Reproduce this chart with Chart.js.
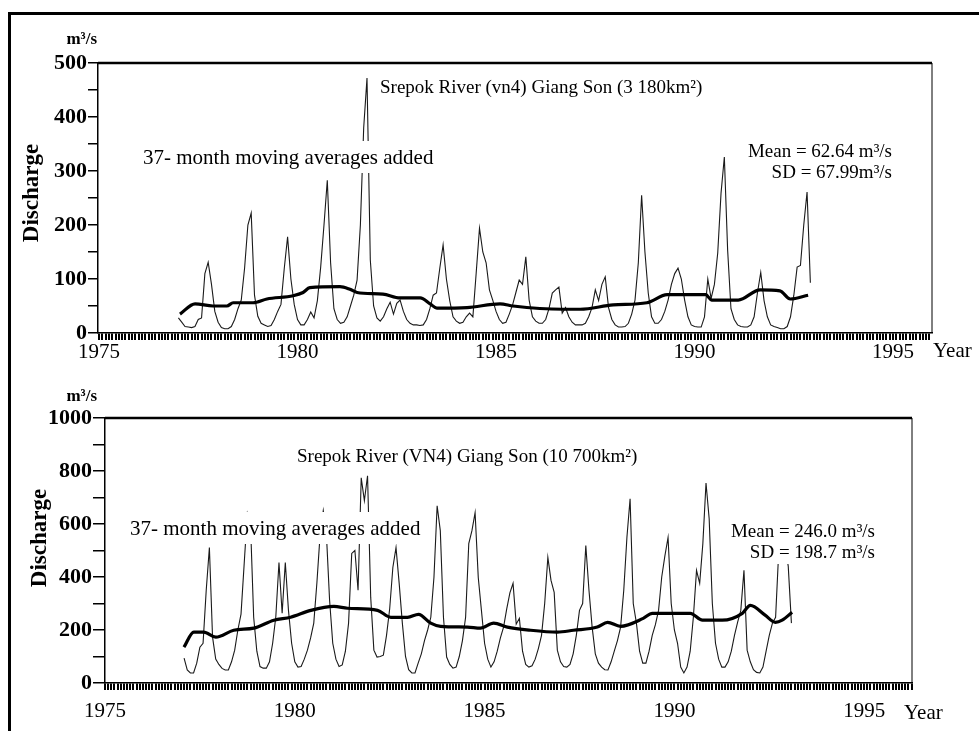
<!DOCTYPE html>
<html>
<head>
<meta charset="utf-8">
<script src="https://cdn.jsdelivr.net/npm/chart.js@4.4.0/dist/chart.umd.min.js"></script>
<style>
  html, body { margin: 0; padding: 0; background: #fff; width: 979px; height: 731px; overflow: hidden; }
  .panel { position: absolute; left: 0; width: 979px; }
  #p1 { top: 0; height: 366px; }
  #p2 { top: 366px; height: 365px; }
  .frame { position: absolute; left: 8px; top: 12px; width: 990px; height: 740px;
           border-left: 3px solid #000; border-top: 3px solid #000; }
</style>
</head>
<body>
<div class="frame"></div>
<div class="panel" id="p1"><canvas id="upper"></canvas></div>
<div class="panel" id="p2"><canvas id="lower"></canvas></div>

<script>
(function () {
   'use strict';

   //TICK LABELS
   const xLabelYears  = [1975, 1980, 1985, 1990, 1995];
   const upperYLabels = [0, 100, 200, 300, 400, 500];
   const lowerYLabels = [0, 200, 400, 600, 800, 1000];

   //UPPER PANEL - monthly discharge, Jan 1977 onward (m3/s)
   const upperStart = 1977;
   const upperFlow = [
       28, 20, 12, 11, 10, 12, 25, 28, 110, 131, 90, 40,
       20, 10, 8, 8, 12, 25, 45, 61, 120, 200, 222, 70,
       31, 18, 15, 12, 14, 25, 40, 53, 120, 178, 100, 53,
       25, 15, 15, 25, 39, 28, 60, 122, 200, 283, 130, 45,
       25, 18, 20, 30, 50, 70, 98, 200, 380, 472, 135, 50,
       28, 22, 30, 45, 57, 35, 55, 61, 40, 25, 18, 15,
       15, 14, 15, 25, 45, 70, 74, 120, 163, 100, 60, 30,
       22, 18, 20, 30, 37, 30, 111, 194, 150, 130, 80, 61,
       40, 25, 18, 20, 35, 52, 75, 98, 90, 141, 61, 30,
       22, 18, 18, 25, 45, 74, 80, 85, 37, 47, 30, 20,
       15, 15, 15, 18, 30, 47, 80, 60, 90, 104, 47, 25,
       15, 11, 11, 12, 18, 35, 61, 130, 255, 150, 74, 30,
       18, 18, 25, 40, 61, 90, 110, 120, 100, 61, 30, 15,
       12, 11, 11, 30, 100, 64, 90, 148, 259, 326, 153, 45,
       25, 15, 12, 11, 11, 15, 30, 74, 112, 60, 30, 15,
       12, 10, 8, 8, 12, 30, 70, 122, 125, 200, 261, 93
   ];

   //UPPER PANEL - 37 month moving average
   const upperAvgYears = [1977.04, 1977.42, 1977.87, 1978.22, 1978.38, 1978.88, 1979.23, 1979.89,
       1980.14, 1980.31, 1981.07, 1981.32, 1981.5, 1982.15, 1982.58, 1983.09, 1983.34, 1983.51,
       1984.27, 1985.1, 1985.43, 1986.69, 1987.12, 1987.95, 1988.8, 1989.31, 1990.28, 1990.43,
       1991.1, 1991.65, 1992.15, 1992.41, 1992.86];
   const upperAvg = [35, 54, 50, 50, 56, 56, 63, 69,
       75, 84, 86, 81, 75, 72, 65, 65, 54, 46,
       47, 54, 50, 44, 44, 52, 56, 71, 71, 61,
       61, 80, 78, 63, 70];

   //LOWER PANEL - monthly discharge, Feb 1977 onward (m3/s)
   const lowerStart = 1977 + 1 / 12;
   const lowerFlow = [
       94, 49, 38, 38, 75, 135, 150, 350, 511, 173, 90,
       70, 55, 49, 49, 80, 124, 200, 260, 450, 640, 600, 248,
       120, 62, 56, 56, 80, 150, 250, 455, 263, 455, 274, 150,
       80, 60, 62, 90, 124, 170, 226, 380, 560, 650, 560, 312,
       150, 90, 62, 68, 120, 226, 489, 500, 350, 774, 688, 782,
       323, 124, 98, 100, 105, 180, 280, 436, 511, 376, 226, 100,
       50, 38, 38, 75, 110, 160, 200, 248, 400, 669, 575, 248,
       98, 70, 56, 60, 100, 160, 248, 526, 575, 643, 398, 274,
       150, 90, 60, 80, 120, 170, 211, 280, 340, 376, 222, 244,
       120, 70, 60, 65, 90, 130, 180, 300, 474, 387, 342, 124,
       80, 62, 60, 70, 110, 180, 274, 300, 519, 350, 211, 110,
       75, 60, 50, 49, 80, 120, 160, 211, 350, 550, 695, 300,
       226, 120, 75, 75, 120, 180, 220, 274, 400, 480, 549, 300,
       200, 150, 60, 38, 60, 120, 248, 425, 376, 526, 755, 620,
       300, 150, 90, 60, 60, 80, 120, 180, 230, 274, 425, 124,
       80, 50, 40, 38, 60, 120, 180, 226, 248, 500, 560, 520,
       440, 226
   ];

   //LOWER PANEL - 37 month moving average
   const lowerAvgYears = [1977.08, 1977.34, 1977.6, 1977.92, 1978.39, 1978.92, 1979.45, 1979.89,
       1980.42, 1981.03, 1981.39, 1982.18, 1982.53, 1982.97, 1983.26, 1983.58, 1983.84, 1984.55,
       1984.89, 1985.24, 1985.6, 1986.21, 1986.92, 1987.34, 1987.97, 1988.24, 1988.58, 1989.18,
       1989.42, 1990.42, 1990.74, 1991.26, 1991.79, 1992.0, 1992.39, 1992.66, 1992.84, 1993.1];
   const lowerAvg = [135, 192, 192, 173, 199, 207, 237, 248,
       274, 289, 282, 274, 248, 248, 259, 226, 214, 211,
       207, 226, 211, 199, 192, 199, 211, 229, 214, 244,
       263, 263, 237, 237, 263, 293, 256, 229, 237, 267];


   function monthly(start, values) {
       return values.map(function (v, i) { return { x: start + i / 12, y: v }; });
   }

   function paired(xs, ys) {
       return xs.map(function (x, i) { return { x: x, y: ys[i] }; });
   }

   const SERIF = "'Liberation Serif', 'DejaVu Serif', serif";

   //TEXT, MASKS AND PLOT FRAME
   const notes = {
       id: 'notes',
       afterDraw: function (chart, args, opts) {
           const ctx = chart.ctx;
           const a = chart.chartArea;

           ctx.save();
           ctx.strokeStyle = '#000';
           ctx.lineWidth = 2.5;
           ctx.beginPath();
           ctx.moveTo(a.left, a.top);
           ctx.lineTo(a.right, a.top);
           ctx.stroke();
           ctx.lineWidth = 1;
           ctx.beginPath();
           ctx.moveTo(a.right, a.top);
           ctx.lineTo(a.right, a.bottom);
           ctx.stroke();

           opts.items.forEach(function (it) {
               ctx.font = it.font;
               ctx.textBaseline = 'middle';
               if (it.rotate) {
                   ctx.save();
                   ctx.translate(it.x, it.y);
                   ctx.rotate(-Math.PI / 2);
                   ctx.textAlign = 'center';
                   ctx.fillStyle = '#000';
                   ctx.fillText(it.text, 0, 0);
                   ctx.restore();
                   return;
               }
               ctx.textAlign = it.align || 'left';
               if (it.mask) {
                   const w = ctx.measureText(it.text).width;
                   const left = it.align === 'right' ? it.x - w : it.x;
                   ctx.fillStyle = '#fff';
                   ctx.fillRect(left - 3, it.y - it.mask[0], w + 6, it.mask[0] + it.mask[1]);
               }
               ctx.fillStyle = '#000';
               ctx.fillText(it.text, it.x, it.y);
           });
           ctx.restore();
       }
   };

   function monthTicks(scale) {
       const ticks = [];
       for (let k = Math.ceil(scale.min * 12 - 1e-6); k / 12 <= scale.max + 1e-9; k++) {
           ticks.push({ value: k / 12 });
       }
       scale.ticks = ticks;
   }

   function yearLabel(v) {
       const r = Math.round(v);
       return (Math.abs(v - r) < 1e-6 && xLabelYears.indexOf(r) !== -1) ? String(r) : '';
   }

   function makeChart(canvas, cfg) {
       return new Chart(canvas, {
           type: 'line',
           data: {
               datasets: [{
                   label: '37-month moving average',
                   data: cfg.avg,
                   borderColor: '#000',
                   borderWidth: 3.2,
                   pointRadius: 0,
                   cubicInterpolationMode: 'monotone'
               }, {
                   label: 'Discharge',
                   data: cfg.flow,
                   borderColor: '#1a1a1a',
                   borderWidth: 1.1,
                   pointRadius: 0,
                   tension: 0
               }]
           },
           options: {
               responsive: true,
               maintainAspectRatio: false,
               animation: false,
               events: [],
               layout: { padding: cfg.padding },
               plugins: {
                   legend: { display: false },
                   tooltip: { enabled: false },
                   notes: { items: cfg.items }
               },
               scales: {
                   x: {
                       type: 'linear',
                       min: cfg.xMin,
                       max: cfg.xMax,
                       afterBuildTicks: monthTicks,
                       afterFit: function (s) { s.height = cfg.xHeight; },
                       ticks: {
                           autoSkip: false,
                           maxRotation: 0,
                           padding: cfg.xPad,
                           color: '#000',
                           font: { family: SERIF, size: 21 },
                           callback: yearLabel
                       },
                       grid: {
                           drawOnChartArea: false,
                           tickLength: 7,
                           lineWidth: 2,
                           color: '#000'
                       },
                       border: { display: true, color: '#000', width: 1.5 }
                   },
                   y: {
                       min: 0,
                       max: cfg.yMax,
                       afterFit: function (s) { s.width = cfg.yWidth; },
                       ticks: {
                           stepSize: cfg.yStep,
                           autoSkip: false,
                           padding: 1,
                           color: '#000',
                           font: { family: SERIF, size: 22, weight: 'bold' },
                           callback: function (v) { return cfg.yLabels.indexOf(v) !== -1 ? v : ''; }
                       },
                       grid: {
                           drawOnChartArea: false,
                           tickLength: cfg.yTick,
                           lineWidth: 1.5,
                           color: '#000'
                       },
                       border: { display: true, color: '#000', width: 1.5 }
                   }
               }
           },
           plugins: [notes]
       });
   }

   const f19 = '19px ' + SERIF;
   const f21 = '21px ' + SERIF;

   makeChart(document.getElementById('upper'), {
       flow: monthly(upperStart, upperFlow),
       avg: paired(upperAvgYears, upperAvg),
       padding: { left: 20, right: 47, top: 63, bottom: 0 },
       xMin: 1974.975, xMax: 1995.98, xHeight: 33, xPad: 0,
       yMax: 500, yStep: 50, yWidth: 78, yTick: 10, yLabels: upperYLabels,
       items: [
           { text: 'Srepok River (vn4) Giang Son (3 180km²)', x: 380, y: 88, font: f19 },
           { text: '37- month moving averages added', x: 143, y: 158, font: f21, mask: [17, 15] },
           { text: 'Mean = 62.64 m³/s', x: 892, y: 152, font: f19, align: 'right', mask: [11, 12] },
           { text: 'SD = 67.99m³/s', x: 892, y: 173, font: f19, align: 'right', mask: [11, 11] },
           { text: 'm³/s', x: 97, y: 40, font: 'bold 17px ' + SERIF, align: 'right' },
           { text: 'Discharge', x: 32, y: 193, font: 'bold 23px ' + SERIF, rotate: true },
           { text: 'Year', x: 933, y: 351, font: f21 }
       ]
   });

   makeChart(document.getElementById('lower'), {
       flow: monthly(lowerStart, lowerFlow),
       avg: paired(lowerAvgYears, lowerAvg),
       padding: { left: 20, right: 67, top: 52, bottom: 0 },
       xMin: 1975, xMax: 1996.26, xHeight: 48, xPad: 9,
       yMax: 1000, yStep: 100, yWidth: 85, yTick: 12, yLabels: lowerYLabels,
       items: [
           { text: 'Srepok River (VN4) Giang Son (10 700km²)', x: 297, y: 91, font: f19 },
           { text: '37- month moving averages added', x: 130, y: 163, font: f21, mask: [17, 15] },
           { text: 'Mean = 246.0 m³/s', x: 875, y: 166, font: f19, align: 'right', mask: [11, 12] },
           { text: 'SD = 198.7 m³/s', x: 875, y: 187, font: f19, align: 'right', mask: [11, 11] },
           { text: 'm³/s', x: 97, y: 31, font: 'bold 17px ' + SERIF, align: 'right' },
           { text: 'Discharge', x: 40, y: 172, font: 'bold 23px ' + SERIF, rotate: true },
           { text: 'Year', x: 904, y: 347, font: f21 }
       ]
   });

})();
</script>
</body>
</html>
